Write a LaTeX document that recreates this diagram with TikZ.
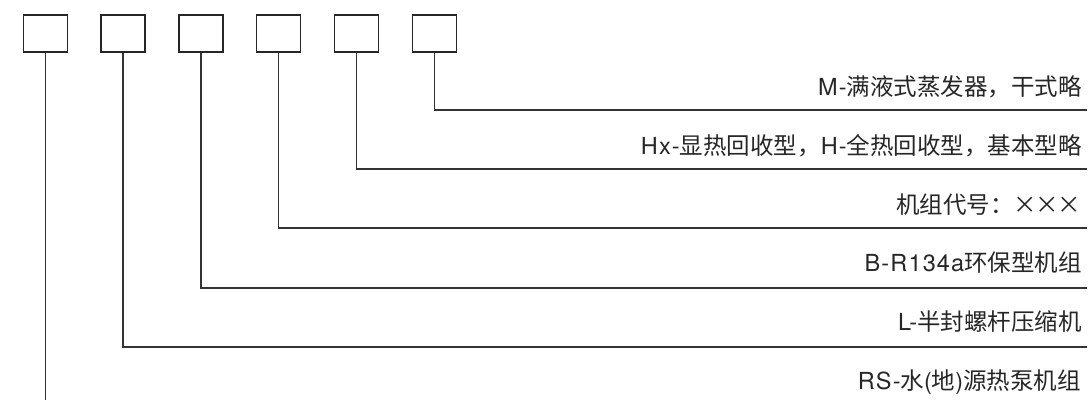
\documentclass[tikz,border=0pt]{standalone}
\usepackage{fontspec}
\setmainfont[LetterSpace=5]{TeX Gyre Heros}
\newfontfamily\cjk{Noto Sans CJK SC}
\newcommand{\fwx}{\makebox[22pt]{×}}
\begin{document}
\begin{tikzpicture}[x=1pt,y=-1pt,
  codebox/.style={draw=black!85,line width=1.6pt,minimum width=44pt,minimum height=37pt,inner sep=0pt},
  leader/.style={draw=black!80,line width=1.5pt},
  lbl/.style={anchor=east,inner sep=0pt,font=\fontsize{23.5}{26}\selectfont,text=black!85}]
\useasboundingbox (0,0) rectangle (1088,401);
\foreach \i/\x in {1/45.5,2/123.2,3/201,4/278.6,5/356.5,6/434.6}{
  \node[codebox] (b\i) at (\x,33.5) {};
}
\coordinate (e1) at (b1.south |- 0,400);
\draw[leader] (b1.south) -- (e1);
\foreach \i/\y in {2/347,3/288,4/228,5/169,6/110}{
  \coordinate (c\i) at (b\i.south |- 0,\y);
  \coordinate (r\i) at (1087,\y);
  \draw[leader] (b\i.south) -- (c\i) -- (r\i);
}
\node[lbl] (t6) at (1082,87) {M-{\cjk 满液式蒸发器，干式略}};
\node[lbl] (t5) at (1082,146) {Hx-{\cjk 显热回收型，}H-{\cjk 全热回收型，基本型略}};
\node[lbl] (t4) at (1080,204.5) {{\cjk 机组代号：\fwx\fwx\fwx}};
\node[lbl] (t3) at (1082,263) {B-R134a{\cjk 环保型机组}};
\node[lbl] (t2) at (1082,322) {L-{\cjk 半封螺杆压缩机}};
\node[lbl] (t1) at (1081,382) {RS-{\cjk 水}({\cjk 地}){\cjk 源热泵机组}};
\end{tikzpicture}
\end{document}
